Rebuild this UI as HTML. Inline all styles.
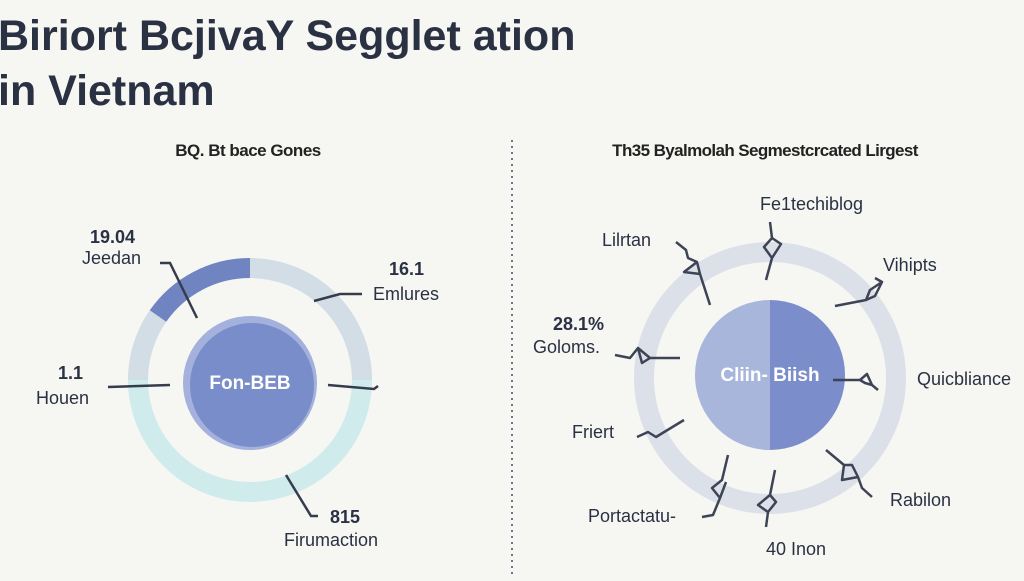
<!DOCTYPE html><html><head><style>
body{margin:0;width:1024px;height:576px;background:#f6f6f3;overflow:hidden;font-family:"Liberation Sans",sans-serif;}
</style></head><body>
<svg width="1024" height="576" viewBox="0 0 1024 576" xmlns="http://www.w3.org/2000/svg" font-family="Liberation Sans, sans-serif">
<text x="-2" y="50" font-size="43" font-weight="bold" fill="#2a3142">Biriort BcjivaY Segglet ation</text>
<text x="-2" y="105" font-size="43" font-weight="bold" fill="#2a3142">in Vietnam</text>
<text x="248" y="156" font-size="17" text-anchor="middle" fill="#222" font-weight="bold" letter-spacing="-0.5">BQ. Bt bace Gones</text>
<text x="765" y="156" font-size="17" text-anchor="middle" fill="#222" font-weight="bold" letter-spacing="-0.6">Th35 Byalmolah Segmestcrcated Lirgest</text>
<line x1="512" y1="140" x2="512" y2="576" stroke="#6a7590" stroke-width="2" stroke-dasharray="2,4"/>
<!-- left donut -->
<circle cx="250" cy="380" r="112" fill="none" stroke="#d0ebec" stroke-width="20"/>
<path d="M250 268 A112 112 0 0 1 362 380" fill="none" stroke="#d3dde6" stroke-width="20"/>
<path d="M138 380 A112 112 0 0 1 158 316" fill="none" stroke="#d3dde6" stroke-width="20"/>
<path d="M158 316 A112 112 0 0 1 250 268" fill="none" stroke="#7184c2" stroke-width="20"/>
<circle cx="250" cy="383" r="67" fill="#a3b1dc"/>
<circle cx="252" cy="385" r="62" fill="#7a8dcb"/>
<text x="250" y="389" font-size="19" font-weight="bold" fill="#fff" text-anchor="middle">Fon-BEB</text>
<g stroke="#353c4c" stroke-width="2.5" fill="none">
<path d="M160 263 L170 263 L197 318"/>
<path d="M314 301 L340 294 L362 294"/>
<path d="M108 387 L170 385"/>
<path d="M328 385 L374 389 L378 386"/>
<path d="M286 475 L311 516 L318 516"/>
</g>
<g fill="#2a3142">
<text x="90" y="243" font-size="18" font-weight="bold">19.04</text>
<text x="82" y="264" font-size="18">Jeedan</text>
<text x="389" y="275" font-size="18" font-weight="bold">16.1</text>
<text x="373" y="300" font-size="18">Emlures</text>
<text x="58" y="379" font-size="18" font-weight="bold">1.1</text>
<text x="36" y="404" font-size="18">Houen</text>
<text x="330" y="523" font-size="18" font-weight="bold">815</text>
<text x="284" y="546" font-size="18">Firumaction</text>
</g>
<!-- right donut -->
<circle cx="770" cy="378" r="126" fill="none" stroke="#dce1e9" stroke-width="20"/>
<path d="M770 300 A75 75 0 0 0 770 450 Z" fill="#a9b6dc"/>
<path d="M770 300 A75 75 0 0 1 770 450 Z" fill="#7b8dca"/>
<text x="770" y="381" font-size="19" font-weight="bold" fill="#fff" text-anchor="middle">Cliin- Biish</text>
<g stroke="#3d4456" stroke-width="2.5" fill="none" stroke-linejoin="round">
<path d="M770 222 L772 238 L764 247 L772 258 L781 244 L772 238 M772 258 L766 280"/>
<path d="M676 242 L686 250 L688 258 L697 262 L700 274 L684 272 L697 262 M700 274 L710 305"/>
<path d="M875 278 L882 282 L870 290 L866 300 L875 296 L882 282 M866 300 L835 306"/>
<path d="M833 380 L860 380 L867 374 L872 385 L865 383 L860 380 M872 385 L878 390"/>
<path d="M615 355 L630 358 L638 348 L650 358 L642 363 L638 348 M650 358 L680 358"/>
<path d="M637 437 L648 432 L656 437 L684 420"/>
<path d="M826 450 L844 465 L842 480 L858 477 L852 465 L844 465 M858 477 L862 488 L872 497"/>
<path d="M728 455 L722 480 L712 488 L720 498 L726 482 M720 498 L713 515 L702 517"/>
<path d="M775 470 L770 495 L758 505 L768 512 L776 502 L770 495 M768 512 L766 527"/>
</g>
<g fill="#2a3142" font-size="18">
<text x="760" y="210">Fe1techiblog</text>
<text x="602" y="246">Lilrtan</text>
<text x="883" y="271">Vihipts</text>
<text x="553" y="330" font-weight="bold">28.1%</text>
<text x="533" y="353">Goloms.</text>
<text x="917" y="385">Quicbliance</text>
<text x="572" y="438">Friert</text>
<text x="890" y="506">Rabilon</text>
<text x="588" y="522">Portactatu-</text>
<text x="766" y="555">40 Inon</text>
</g>
</svg>
</body></html>
